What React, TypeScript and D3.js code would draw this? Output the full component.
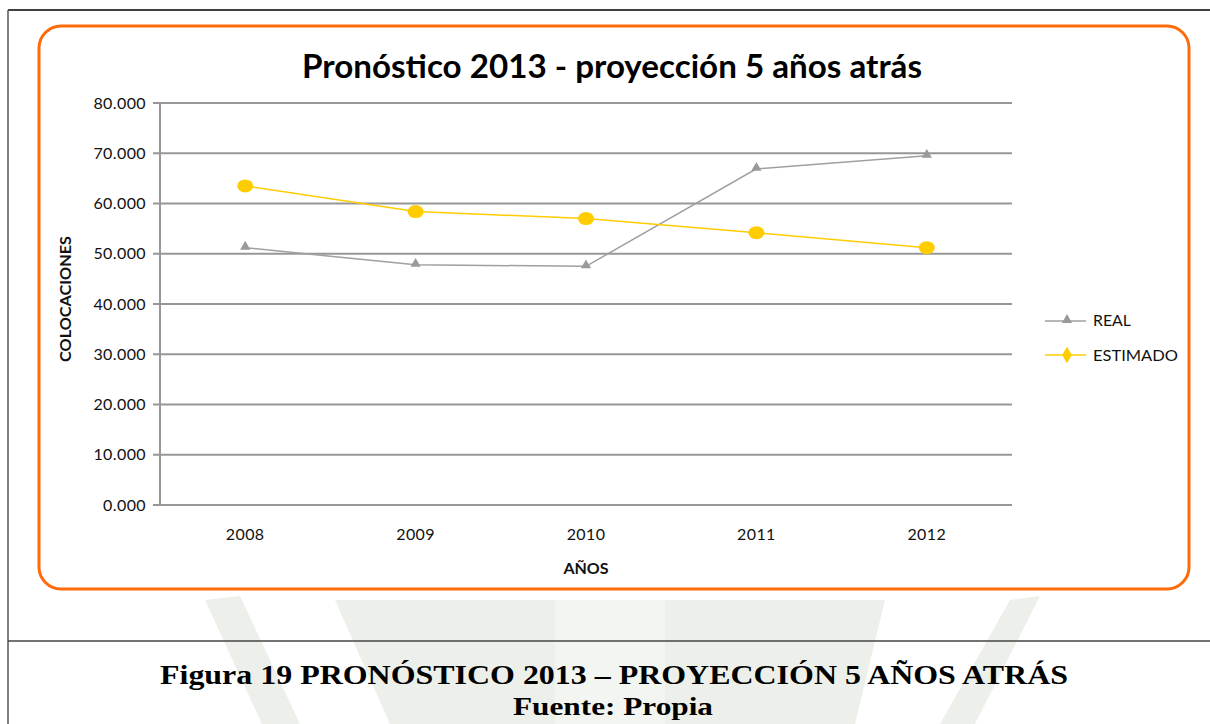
import React from "react";
import * as d3 from "d3";

const years = ["2008", "2009", "2010", "2011", "2012"];
const realValues = [51200, 47800, 47500, 66900, 69500];
const estimadoValues = [63500, 58400, 57000, 54200, 51200];
const yTicks = [0, 10000, 20000, 30000, 40000, 50000, 60000, 70000, 80000];
const seriesNames = ["REAL", "ESTIMADO"];

const W = 1210;
const H = 724;
const plot = { left: 160, right: 1012, top: 103, bottom: 505 };

const tickLabel = (v: number) => (v / 1000).toFixed(3);

export default function App() {
  const x = d3.scaleBand<string>().domain(years).range([plot.left, plot.right]);
  const y = d3.scaleLinear().domain([0, 80000]).range([plot.bottom, plot.top]);
  const cx = (d: string) => (x(d) as number) + x.bandwidth() / 2;
  const line = d3
    .line<number>()
    .x((_, i) => cx(years[i]))
    .y((v) => y(v));

  const labelFont = "Lato, 'Open Sans', sans-serif";
  const serif = "'Liberation Serif', 'Times New Roman', serif";
  const tri = d3.symbol().type(d3.symbolTriangle).size(45)() as string;

  return (
    <svg width={W} height={H} style={{ position: "absolute", left: 0, top: 0 }}>
      <rect x={0} y={0} width={W} height={H} fill="#ffffff" />
      {/* watermark */}
      <g fill="#edf0ea">
        <path d="M205,600 L240,596 L300,724 L262,724 Z" />
        <path d="M1010,600 L1040,596 L975,724 L940,724 Z" />
        <path d="M335,600 L555,600 L555,724 L390,724 Z" />
        <path d="M665,600 L885,600 L855,724 L665,724 Z" />
        <path d="M555,600 L665,600 L665,724 L555,724 Z" fill="#f3f5f1" />
      </g>
      {/* outer frame */}
      <line x1={8} y1={10} x2={W} y2={10} stroke="#000" strokeWidth={1.5} />
      <line x1={8} y1={10} x2={8} y2={H} stroke="#555" strokeWidth={1.5} />
      <line x1={8} y1={641} x2={W} y2={641} stroke="#444" strokeWidth={1.5} />

      {/* chart area */}
      <rect x={39} y={26} width={1150} height={563} rx={22} ry={22} fill="#fff" stroke="#FF6A0A" strokeWidth={3} />

      <text
        x={612}
        y={78}
        textAnchor="middle"
        fontFamily={labelFont}
        fontWeight="bold"
        fontSize={32}
        textLength={620}
        lengthAdjust="spacingAndGlyphs"
        fill="#000"
      >
        Pronóstico 2013 - proyección 5 años atrás
      </text>

      {/* gridlines and y ticks */}
      {yTicks.map((t) => (
        <g key={t}>
          <line x1={plot.left - 7} x2={plot.right} y1={y(t)} y2={y(t)} stroke="#979797" strokeWidth={2} />
          <text x={146} y={y(t) + 5.5} textAnchor="end" fontFamily={labelFont} fontSize={16} letterSpacing={0.4} fill="#111">
            {tickLabel(t)}
          </text>
        </g>
      ))}
      <line x1={plot.left} x2={plot.left} y1={plot.top} y2={plot.bottom} stroke="#979797" strokeWidth={2} />

      {years.map((yr) => (
        <text key={yr} x={cx(yr)} y={540} textAnchor="middle" fontFamily={labelFont} fontSize={16} letterSpacing={0.4} fill="#111">
          {yr}
        </text>
      ))}

      <text x={586} y={574} textAnchor="middle" fontFamily={labelFont} fontWeight="bold" fontSize={16} fill="#111">
        AÑOS
      </text>
      <text
        transform="translate(71,299) rotate(-90)"
        textAnchor="middle"
        fontFamily={labelFont}
        fontWeight="bold"
        fontSize={15}
        textLength={126}
        lengthAdjust="spacingAndGlyphs"
        fill="#111"
      >
        COLOCACIONES
      </text>

      {/* series */}
      <path d={line(realValues) as string} fill="none" stroke="#A0A0A0" strokeWidth={1.5} />
      <path d={line(estimadoValues) as string} fill="none" stroke="#FFCC00" strokeWidth={1.5} />
      {realValues.map((v, i) => (
        <path key={"r" + i} d={tri} transform={`translate(${cx(years[i])},${y(v) - 1})`} fill="#9A9A9A" />
      ))}
      {estimadoValues.map((v, i) => (
        <ellipse key={"e" + i} cx={cx(years[i])} cy={y(v)} rx={8} ry={6.5} fill="#FFCC00" />
      ))}

      {/* legend */}
      <g>
        <line x1={1045} x2={1086} y1={321} y2={321} stroke="#A0A0A0" strokeWidth={1.5} />
        <path d={tri} transform="translate(1067,320)" fill="#9A9A9A" />
        <text x={1093} y={326} fontFamily={labelFont} fontSize={16} textLength={38} lengthAdjust="spacingAndGlyphs" fill="#111">
          {seriesNames[0]}
        </text>
        <line x1={1045} x2={1086} y1={355} y2={355} stroke="#FFCC00" strokeWidth={1.5} />
        <path d={d3.symbol().type(d3.symbolDiamond).size(80)() as string} transform="translate(1067,355)" fill="#FFCC00" />
        <text x={1093} y={361} fontFamily={labelFont} fontSize={16} textLength={85} lengthAdjust="spacingAndGlyphs" fill="#111">
          {seriesNames[1]}
        </text>
      </g>

      {/* caption */}
      <text
        x={614}
        y={684}
        textAnchor="middle"
        fontFamily={serif}
        fontWeight="bold"
        fontSize={28}
        textLength={908}
        lengthAdjust="spacingAndGlyphs"
        fill="#000"
      >
        Figura 19 PRONÓSTICO 2013 – PROYECCIÓN 5 AÑOS ATRÁS
      </text>
      <text
        x={613}
        y={715}
        textAnchor="middle"
        fontFamily={serif}
        fontWeight="bold"
        fontSize={26}
        textLength={200}
        lengthAdjust="spacingAndGlyphs"
        fill="#000"
      >
        Fuente: Propia
      </text>
    </svg>
  );
}
